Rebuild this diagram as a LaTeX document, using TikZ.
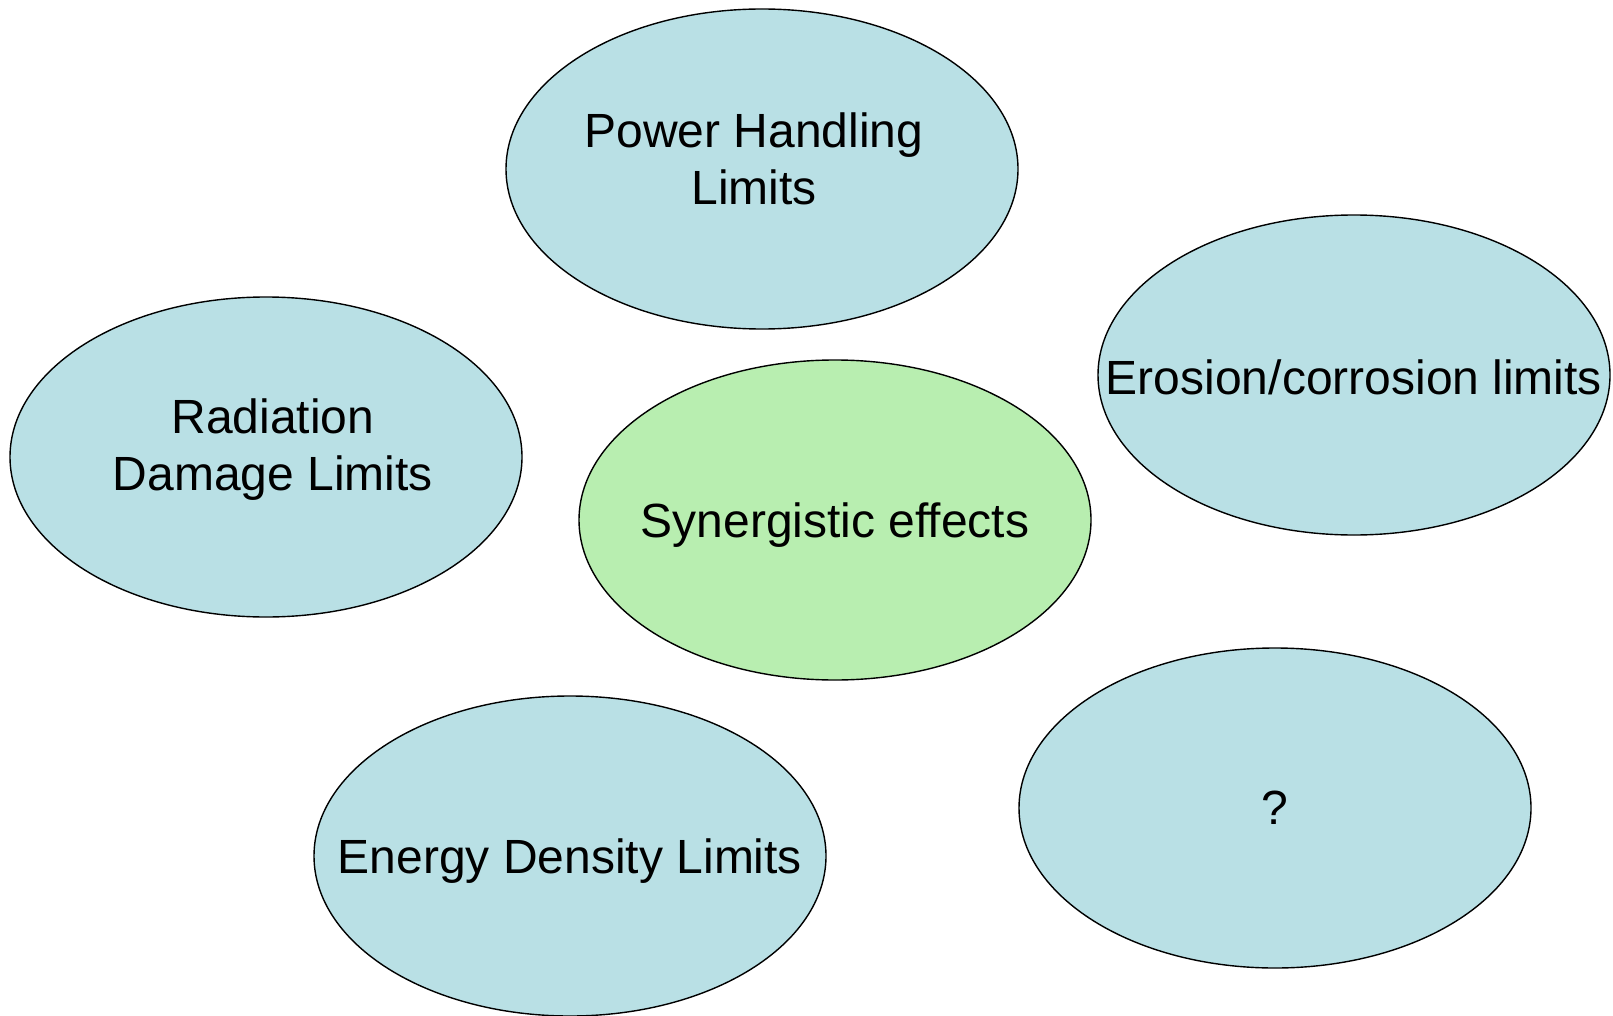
\documentclass[tikz,border=0pt]{standalone}
\usepackage{fontspec}
\setmainfont{Liberation Sans}
\usetikzlibrary{shapes.geometric}
\definecolor{bluefill}{HTML}{B9E0E5}
\definecolor{greenfill}{HTML}{B8EEB0}
\tikzset{
  blob/.style={ellipse, draw=black, line width=1.4pt, fill=bluefill, minimum width=512pt, minimum height=320pt, inner sep=0pt},
  greenblob/.style={blob, fill=greenfill},
  lbl/.style={font=\fontsize{48}{57}\selectfont, align=center, inner sep=0pt, text=black}
}
\begin{document}
\begin{tikzpicture}[x=1pt,y=-1pt]
\useasboundingbox (0,0) rectangle (1613,1016);
\node[blob] (power) at (762,169) {};
\node[blob] (rad) at (266,457) {};
\node[greenblob] (syn) at (835,520) {};
\node[blob] (eros) at (1354,375) {};
\node[blob] (energy) at (570,856) {};
\node[blob] (q) at (1275,808) {};
\node[lbl] (powert) at ([xshift=-8pt,yshift=10pt]power.center) {Power Handling\\Limits};
\node[lbl] (radt) at ([xshift=7pt,yshift=7pt]rad.center) {Radiation\\Damage Limits};
\node[lbl] (synt) at ([yshift=-5pt]syn.center) {Synergistic effects};
\node[lbl] (erost) at ([yshift=-2pt]eros.center) {Erosion/corrosion limits};
\node[lbl] (energyt) at ([yshift=-5pt]energy.center) {Energy Density Limits};
\node[lbl] (qt) at (q.center) {?};
\end{tikzpicture}
\end{document}
